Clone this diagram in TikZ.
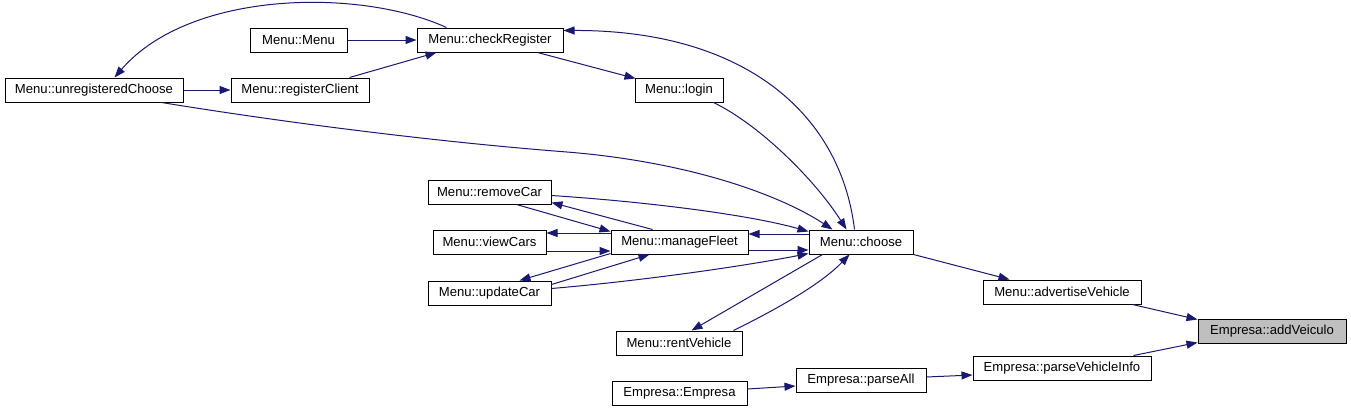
\documentclass[tikz,border=0pt]{standalone}
\usepackage{fontspec}
\setmainfont{Liberation Sans}
\usetikzlibrary{arrows.meta,calc}
\definecolor{edgecol}{HTML}{191970}
\definecolor{hilite}{HTML}{BFBFBF}
\begin{document}
\begin{tikzpicture}[x=1pt,y=-1pt,
  fn/.style={draw=black, line width=1pt, fill=white, inner sep=0pt, minimum height=24pt,
    font=\fontsize{13.1}{15}\selectfont, anchor=center},
  cur/.style={fn, fill=hilite},
  edge/.style={draw=edgecol, line width=1pt, -{Triangle[length=11pt,width=8pt]}}]
\useasboundingbox[fill=white] (0,0) rectangle (1351,413);

% nodes
\node[fn, minimum width=97]  (menu)   at (298.5,40) {Menu::Menu};
\node[fn, minimum width=146] (chkreg) at (490,40)   {Menu::checkRegister};
\node[fn, minimum width=178] (unreg)  at (94,90)    {Menu::unregisteredChoose};
\node[fn, minimum width=138] (regcli) at (300,90)   {Menu::registerClient};
\node[fn, minimum width=88]  (login)  at (679,90)   {Menu::login};
\node[fn, minimum width=123] (remcar) at (489.5,192) {Menu::removeCar};
\node[fn, minimum width=113] (viewc)  at (489.5,242) {Menu::viewCars};
\node[fn, minimum width=137] (manfl)  at (679.5,242) {Menu::manageFleet};
\node[fn, minimum width=104] (choose) at (861,242)  {Menu::choose};
\node[fn, minimum width=123] (updcar) at (489.5,293) {Menu::updateCar};
\node[fn, minimum width=126] (rentv)  at (679,343)  {Menu::rentVehicle};
\node[fn, minimum width=158] (advv)   at (1062,292) {Menu::advertiseVehicle};
\node[cur, minimum width=148] (addv)  at (1272,331) {Empresa::addVeiculo};
\node[fn, minimum width=178] (pvinfo) at (1062,368) {Empresa::parseVehicleInfo};
\node[fn, minimum width=130] (pall)   at (861,380)  {Empresa::parseAll};
\node[fn, minimum width=135] (empr)   at (679.5,393) {Empresa::Empresa};

% top region
\draw[edge] (menu.east) -- (chkreg.west);
\draw[edge] ($(regcli.north west)+(119,0)$) -- ($(chkreg.south west)+(20,0)$);
\draw[edge] (unreg.east) -- (regcli.west);
\draw[edge] ($(chkreg.north west)+(30,0)$) .. controls (360,-12) and (190,-10) .. ($(unreg.north west)+(110,0)$);
\draw[edge] ($(chkreg.south west)+(121,0)$) -- ($(login.north west)+(1,1)$);
\draw[edge] ($(choose.north west)+(46,0)$) .. controls (840,110) and (740,30) .. ($(chkreg.north east)+(0,3)$);
\draw[edge] ($(login.south east)+(-10,0)$) .. controls (760,125) and (815,180) .. ($(choose.north west)+(38,0)$);
\draw[edge] ($(unreg.south west)+(157,0)$) .. controls (300,125) and (450,143) .. (567,152)
  .. controls (690,162) and (780,195) .. ($(choose.north west)+(24,0)$);

% fleet region
\draw[edge] ($(remcar.north east)+(0,16)$) .. controls (650,202) and (750,215) .. ($(choose.north west)+(0,2)$);
\draw[edge] ($(remcar.south west)+(89,0)$) -- ($(manfl.north west)+(0,2)$);
\draw[edge] ($(manfl.north west)+(42,0)$) -- ($(remcar.south east)+(0,-2)$);
\draw[edge] ($(manfl.west)+(0,-9)$) -- ($(viewc.east)+(0,-9)$);
\draw[edge] ($(viewc.east)+(0,9)$) -- ($(manfl.west)+(0,9)$);
\draw[edge] ($(manfl.south west)+(0,-1)$) -- ($(updcar.north west)+(92,0)$);
\draw[edge] ($(updcar.north east)+(0,4)$) -- ($(manfl.south west)+(39,0)$);
\draw[edge] ($(updcar.north east)+(0,8)$) .. controls (650,280) and (750,265) .. ($(choose.south west)+(0,-1)$);
\draw[edge] ($(choose.west)+(0,-8)$) -- ($(manfl.east)+(0,-8)$);
\draw[edge] ($(manfl.east)+(0,8)$) -- ($(choose.west)+(0,8)$);
\draw[edge] ($(choose.south west)+(14,0)$) -- ($(rentv.north west)+(76,0)$);
\draw[edge] ($(rentv.north west)+(118,0)$) .. controls (775,310) and (820,285) .. ($(choose.south west)+(41,0)$);
\draw[edge] (choose.south east) -- ($(advv.north west)+(27,0)$);

% lower right
\draw[edge] ($(advv.south east)+(-9,0)$) -- ($(addv.north west)+(0,1)$);
\draw[edge] ($(pvinfo.north east)+(-18,0)$) -- ($(addv.south west)+(0,-1)$);
\draw[edge] ($(pall.east)+(0,-3)$) -- ($(pvinfo.west)+(0,7)$);
\draw[edge] ($(empr.east)+(0,-4)$) -- ($(pall.west)+(0,6)$);
\end{tikzpicture}
\end{document}
